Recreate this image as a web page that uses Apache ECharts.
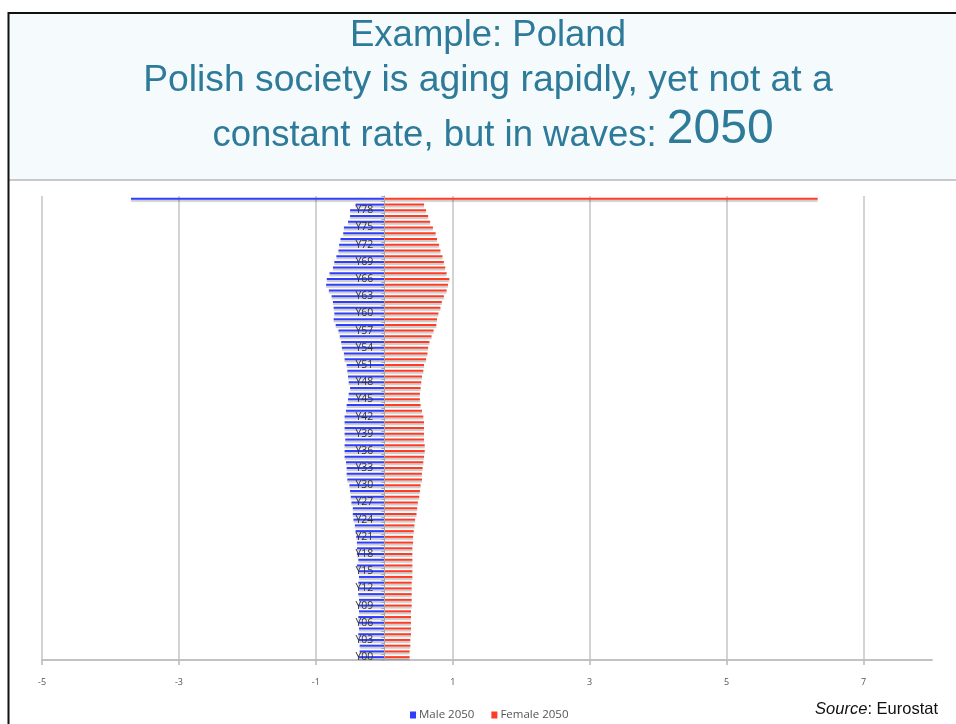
<!DOCTYPE html>
<html>
<head>
<meta charset="utf-8">
<title>Poland population pyramid 2050</title>
<script src="https://cdn.jsdelivr.net/npm/echarts@6/dist/echarts.min.js"></script>
<style>
  html, body { margin: 0; padding: 0; background: #ffffff; }
  #chart { width: 956px; height: 724px; }
</style>
</head>
<body>
<div id="chart"></div>
<script>
// Single-year age groups, youngest first; the last group is 80 and over
const ageGroups = [
  'Y00','Y01','Y02','Y03','Y04','Y05','Y06','Y07','Y08','Y09',
  'Y10','Y11','Y12','Y13','Y14','Y15','Y16','Y17','Y18','Y19',
  'Y20','Y21','Y22','Y23','Y24','Y25','Y26','Y27','Y28','Y29',
  'Y30','Y31','Y32','Y33','Y34','Y35','Y36','Y37','Y38','Y39',
  'Y40','Y41','Y42','Y43','Y44','Y45','Y46','Y47','Y48','Y49',
  'Y50','Y51','Y52','Y53','Y54','Y55','Y56','Y57','Y58','Y59',
  'Y60','Y61','Y62','Y63','Y64','Y65','Y66','Y67','Y68','Y69',
  'Y70','Y71','Y72','Y73','Y74','Y75','Y76','Y77','Y78','Y79',
  'Y_GE80'
];

// Share of total population (%), men drawn to the left as negative values
const male2050 = [
  -0.37,-0.36,-0.36,-0.37,-0.38,-0.37,-0.37,-0.38,-0.37,-0.38,
  -0.37,-0.38,-0.37,-0.38,-0.37,-0.38,-0.40,-0.38,-0.40,-0.40,
  -0.40,-0.41,-0.42,-0.43,-0.45,-0.46,-0.46,-0.48,-0.49,-0.50,
  -0.51,-0.54,-0.55,-0.55,-0.56,-0.58,-0.58,-0.58,-0.57,-0.58,
  -0.58,-0.58,-0.58,-0.56,-0.55,-0.53,-0.52,-0.50,-0.52,-0.53,
  -0.54,-0.55,-0.58,-0.59,-0.62,-0.63,-0.65,-0.67,-0.71,-0.74,
  -0.73,-0.74,-0.75,-0.77,-0.81,-0.85,-0.84,-0.80,-0.75,-0.73,
  -0.70,-0.67,-0.66,-0.64,-0.60,-0.59,-0.53,-0.50,-0.50,-0.42,
  -3.70
];

const female2050 = [
  0.37,0.37,0.38,0.38,0.39,0.39,0.39,0.39,0.39,0.40,
  0.40,0.40,0.40,0.40,0.41,0.41,0.41,0.41,0.41,0.41,
  0.42,0.42,0.43,0.44,0.45,0.47,0.48,0.49,0.51,0.52,
  0.53,0.55,0.55,0.56,0.57,0.58,0.59,0.59,0.58,0.58,
  0.58,0.58,0.57,0.55,0.53,0.52,0.52,0.53,0.54,0.55,
  0.57,0.58,0.61,0.63,0.64,0.66,0.69,0.72,0.76,0.77,
  0.79,0.82,0.84,0.87,0.91,0.93,0.95,0.91,0.89,0.87,
  0.85,0.82,0.80,0.77,0.75,0.71,0.67,0.64,0.61,0.58,
  6.33
];

// Labelled positions on the horizontal axis
const xTickValues = [-5, -3, -1, 1, 3, 5, 7];
const X_MIN = -5;
const X_MAX = 8;

const seriesNames = ['Male 2050', 'Female 2050'];

const headingLines = [
  'Example: Poland',
  'Polish society is aging rapidly, yet not at a',
  'constant rate, but in waves: ',
  '2050'
];

const TEAL = '#2d7a99';
const BLUE = '#2f3dfc';
const RED = '#ff3b24';
const SANS = '"Liberation Sans", Arial, sans-serif';

const GRID = { left: 42, right: 24, top: 196, bottom: 64 };
const CHART_W = 956;

// The age axis sits on the zero line; shift it there from the grid's left edge
const plotWidth = CHART_W - GRID.left - GRID.right;
const zeroShift = plotWidth * (0 - X_MIN) / (X_MAX - X_MIN);

const chart = echarts.init(document.getElementById('chart'), null, { renderer: 'canvas' });

const barShadow = {
  shadowColor: 'rgba(0,0,0,0.22)',
  shadowOffsetY: 2,
  shadowBlur: 1
};

chart.setOption({
  animation: false,
  backgroundColor: '#ffffff',
  grid: Object.assign({ containLabel: false }, GRID),
  xAxis: {
    type: 'value',
    min: X_MIN,
    max: X_MAX,
    interval: 1,
    axisLine: { show: true, onZero: false, lineStyle: { color: '#c2c2c2', width: 2 } },
    axisTick: {
      show: true,
      length: 5,
      customValues: xTickValues,
      lineStyle: { color: '#b8b8b8', width: 1.5 }
    },
    axisLabel: {
      customValues: xTickValues,
      margin: 18,
      fontSize: 9,
      color: '#555555',
      fontFamily: '"Open Sans", sans-serif'
    },
    splitLine: { show: true, lineStyle: { color: '#c4c4c4', width: 1.5 } }
  },
  yAxis: {
    type: 'category',
    data: ageGroups,
    position: 'left',
    offset: -zeroShift,
    z: 3,
    axisLine: { show: true, onZero: false, lineStyle: { color: '#a8a8a8', width: 1 } },
    axisTick: { show: true, interval: 0, length: 3, lineStyle: { color: '#a8a8a8' } },
    axisLabel: {
      interval: 2,
      margin: 11,
      fontSize: 10.5,
      color: '#333333',
      fontFamily: '"Open Sans", sans-serif'
    },
    splitLine: { show: false }
  },
  legend: {
    data: seriesNames,
    left: 405,
    top: 704,
    icon: 'rect',
    itemWidth: 6,
    itemHeight: 7,
    itemGap: 17,
    textStyle: { fontSize: 11.5, color: '#555555', fontFamily: '"Open Sans", sans-serif', padding: [0, 0, 0, -2] }
  },
  series: [
    {
      name: seriesNames[0],
      type: 'bar',
      data: male2050,
      barWidth: 2,
      barGap: '-100%',
      itemStyle: Object.assign({ color: BLUE }, barShadow)
    },
    {
      name: seriesNames[1],
      type: 'bar',
      data: female2050,
      barWidth: 2,
      barGap: '-100%',
      itemStyle: Object.assign({ color: RED }, barShadow)
    }
  ],
  graphic: [
    // heading band
    {
      type: 'rect', z: -10, silent: true,
      shape: { x: 9, y: 13, width: 947, height: 166 },
      style: { fill: '#f5fafd' }
    },
    {
      type: 'line', z: -5, silent: true,
      shape: { x1: 9, y1: 180, x2: 956, y2: 180 },
      style: { stroke: '#c9c9c9', lineWidth: 2 }
    },
    // slide frame
    {
      type: 'polyline', z: 20, silent: true,
      shape: { points: [[8.5, 724], [8.5, 13], [956, 13]] },
      style: { stroke: '#111111', lineWidth: 2, fill: null }
    },
    {
      type: 'text', z: 20, silent: true,
      style: {
        text: headingLines[0], x: 488, y: 36,
        align: 'center', textAlign: 'center', verticalAlign: 'middle', textVerticalAlign: 'middle',
        font: '36.5px ' + SANS, fill: TEAL
      }
    },
    {
      type: 'text', z: 20, silent: true,
      style: {
        text: headingLines[1], x: 488, y: 81,
        align: 'center', textAlign: 'center', verticalAlign: 'middle', textVerticalAlign: 'middle',
        font: '37.3px ' + SANS, fill: TEAL
      }
    },
    {
      type: 'text', z: 20, silent: true,
      style: {
        text: '{a|' + headingLines[2] + '}{b|' + headingLines[3] + '}',
        x: 493, y: 130,
        align: 'center', textAlign: 'center', verticalAlign: 'middle', textVerticalAlign: 'middle',
        font: '36.5px ' + SANS, fill: TEAL,
        rich: {
          a: { fontSize: 36.5, fontFamily: SANS, fill: TEAL, lineHeight: 41, verticalAlign: 'bottom' },
          b: { fontSize: 48, fontFamily: SANS, fill: TEAL, lineHeight: 48, verticalAlign: 'bottom' }
        }
      }
    },
    {
      type: 'text', z: 20, silent: true,
      style: {
        text: '{i|Source}{n|: Eurostat}',
        x: 938, y: 709,
        align: 'right', textAlign: 'right', verticalAlign: 'middle', textVerticalAlign: 'middle',
        font: '16.5px ' + SANS, fill: '#111111',
        rich: {
          i: { fontSize: 16.5, fontFamily: SANS, fontStyle: 'italic', fill: '#111111' },
          n: { fontSize: 16.5, fontFamily: SANS, fill: '#111111' }
        }
      }
    }
  ]
});
</script>
</body>
</html>
